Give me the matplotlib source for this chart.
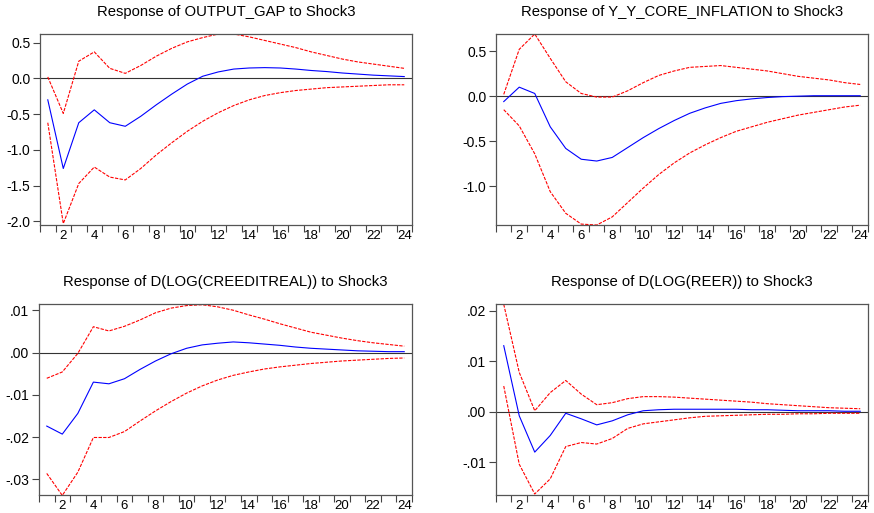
import matplotlib.pyplot as plt
import numpy as np

plt.rcParams['font.family'] = ['Liberation Sans', 'DejaVu Sans']

# horizon (periods)
periods = np.arange(1, 25)

# Response of OUTPUT_GAP
gap_resp = [-0.30, -1.26, -0.62, -0.44, -0.62, -0.67, -0.53, -0.37, -0.22, -0.08, 0.03, 0.09,
            0.13, 0.145, 0.15, 0.145, 0.13, 0.11, 0.095, 0.075, 0.06, 0.045, 0.035, 0.025]
gap_up = [0.02, -0.49, 0.24, 0.37, 0.14, 0.07, 0.18, 0.31, 0.42, 0.51, 0.57, 0.62,
          0.62, 0.58, 0.53, 0.48, 0.43, 0.37, 0.32, 0.27, 0.23, 0.20, 0.17, 0.14]
gap_lo = [-0.62, -2.03, -1.47, -1.24, -1.38, -1.42, -1.26, -1.07, -0.90, -0.74, -0.60, -0.48,
          -0.38, -0.30, -0.24, -0.20, -0.17, -0.15, -0.13, -0.12, -0.11, -0.10, -0.09, -0.09]

# Response of Y_Y_CORE_INFLATION
infl_resp = [-0.06, 0.10, 0.03, -0.34, -0.58, -0.70, -0.72, -0.68, -0.57, -0.46, -0.36, -0.27,
             -0.19, -0.13, -0.08, -0.05, -0.03, -0.015, -0.005, 0.0, 0.005, 0.005, 0.005, 0.005]
infl_up = [0.02, 0.52, 0.69, 0.42, 0.16, 0.03, -0.01, -0.01, 0.06, 0.15, 0.23, 0.28,
           0.32, 0.33, 0.34, 0.32, 0.30, 0.28, 0.25, 0.22, 0.20, 0.18, 0.15, 0.13]
infl_lo = [-0.15, -0.33, -0.64, -1.06, -1.30, -1.42, -1.43, -1.34, -1.18, -1.02, -0.87, -0.74,
           -0.63, -0.54, -0.46, -0.39, -0.34, -0.29, -0.25, -0.21, -0.18, -0.15, -0.12, -0.10]

# Response of D(LOG(CREEDITREAL))
cred_resp = [-0.0174, -0.0193, -0.0144, -0.0070, -0.0074, -0.0062, -0.0040, -0.0020, -0.0003, 0.0010,
             0.0018, 0.0022, 0.0025, 0.0023, 0.0020, 0.0017, 0.0013, 0.0010, 0.0008, 0.0006,
             0.0004, 0.0003, 0.0002, 0.0002]
cred_up = [-0.0061, -0.0046, -0.0002, 0.0061, 0.0051, 0.0062, 0.0077, 0.0094, 0.0105, 0.0111,
           0.0113, 0.0108, 0.0100, 0.0089, 0.0079, 0.0068, 0.0058, 0.0048, 0.0041, 0.0034,
           0.0028, 0.0023, 0.0019, 0.0015]
cred_lo = [-0.0286, -0.0338, -0.0283, -0.0201, -0.0201, -0.0187, -0.0162, -0.0138, -0.0116, -0.0096,
           -0.0079, -0.0065, -0.0054, -0.0046, -0.0039, -0.0034, -0.0030, -0.0026, -0.0023, -0.0020,
           -0.0018, -0.0016, -0.0014, -0.0013]

# Response of D(LOG(REER))
reer_resp = [0.0131, -0.0008, -0.0080, -0.0047, -0.0003, -0.0014, -0.0026, -0.0018, -0.0006, 0.0002,
             0.0004, 0.0005, 0.0005, 0.0005, 0.0005, 0.0005, 0.0004, 0.0004, 0.0003, 0.0002,
             0.0002, 0.0002, 0.0001, 0.0001]
reer_up = [0.0213, 0.0078, 0.0002, 0.0038, 0.0062, 0.0035, 0.0014, 0.0018, 0.0026, 0.0030,
           0.0030, 0.0029, 0.0027, 0.0025, 0.0023, 0.0021, 0.0019, 0.0016, 0.0014, 0.0012,
           0.0010, 0.0008, 0.0007, 0.0006]
reer_lo = [0.0051, -0.0104, -0.0163, -0.0133, -0.0069, -0.0061, -0.0064, -0.0053, -0.0033, -0.0024,
           -0.0020, -0.0016, -0.0012, -0.0009, -0.0008, -0.0007, -0.0006, -0.0005, -0.0005, -0.0004,
           -0.0004, -0.0003, -0.0003, -0.0003]

panels = [
    ("Response of OUTPUT_GAP to Shock3", gap_resp, gap_up, gap_lo,
     (-2.05, 0.62), [0.5, 0.0, -0.5, -1.0, -1.5, -2.0], ["0.5", "0.0", "-0.5", "-1.0", "-1.5", "-2.0"],
     [0.0458, 0.5614, 0.4256, 0.3723]),
    ("Response of Y_Y_CORE_INFLATION to Shock3", infl_resp, infl_up, infl_lo,
     (-1.43, 0.69), [0.5, 0.0, -0.5, -1.0], ["0.5", "0.0", "-0.5", "-1.0"],
     [0.5675, 0.5614, 0.4256, 0.3723]),
    ("Response of D(LOG(CREEDITREAL)) to Shock3", cred_resp, cred_up, cred_lo,
     (-0.0337, 0.0114), [0.01, 0.0, -0.01, -0.02, -0.03], [".01", ".00", "-.01", "-.02", "-.03"],
     [0.0446, 0.0351, 0.4268, 0.3717]),
    ("Response of D(LOG(REER)) to Shock3", reer_resp, reer_up, reer_lo,
     (-0.0165, 0.0213), [0.02, 0.01, 0.0, -0.01], [".02", ".01", ".00", "-.01"],
     [0.5675, 0.0351, 0.4256, 0.3717]),
]

fig = plt.figure(figsize=(8.74, 5.13), dpi=100)

for title, resp, up, lo, ylim, yticks, ylabels, pos in panels:
    ax = fig.add_axes(pos)
    ax.axhline(0, color='#333333', linewidth=0.8, zorder=1)
    ax.plot(periods, up, color='red', linewidth=0.8, linestyle=(0, (3, 1.2)), zorder=2)
    ax.plot(periods, lo, color='red', linewidth=0.8, linestyle=(0, (3, 1.2)), zorder=2)
    ax.plot(periods, resp, color='blue', linewidth=0.8, zorder=3)
    ax.set_xlim(0.5, 24.5)
    ax.set_ylim(*ylim)
    ax.set_xticks(np.arange(2, 25, 2))
    ax.set_xticks(np.arange(0.5, 25, 1), minor=True)
    ax.set_yticks(yticks)
    ax.set_yticklabels(ylabels)
    ax.tick_params(axis='x', which='major', length=0, pad=3.5, labelsize=9.5)
    ax.tick_params(axis='x', which='minor', length=5, width=0.8, direction='out', color='#444444')
    ax.tick_params(axis='y', length=5, width=0.8, direction='out', labelsize=10, pad=2,
                   color='#444444')
    for s in ax.spines.values():
        s.set_color('#555555')
        s.set_linewidth(0.9)
    ax.set_title(title, fontsize=10.7, pad=13)

fig.savefig("out.png", dpi=100)
